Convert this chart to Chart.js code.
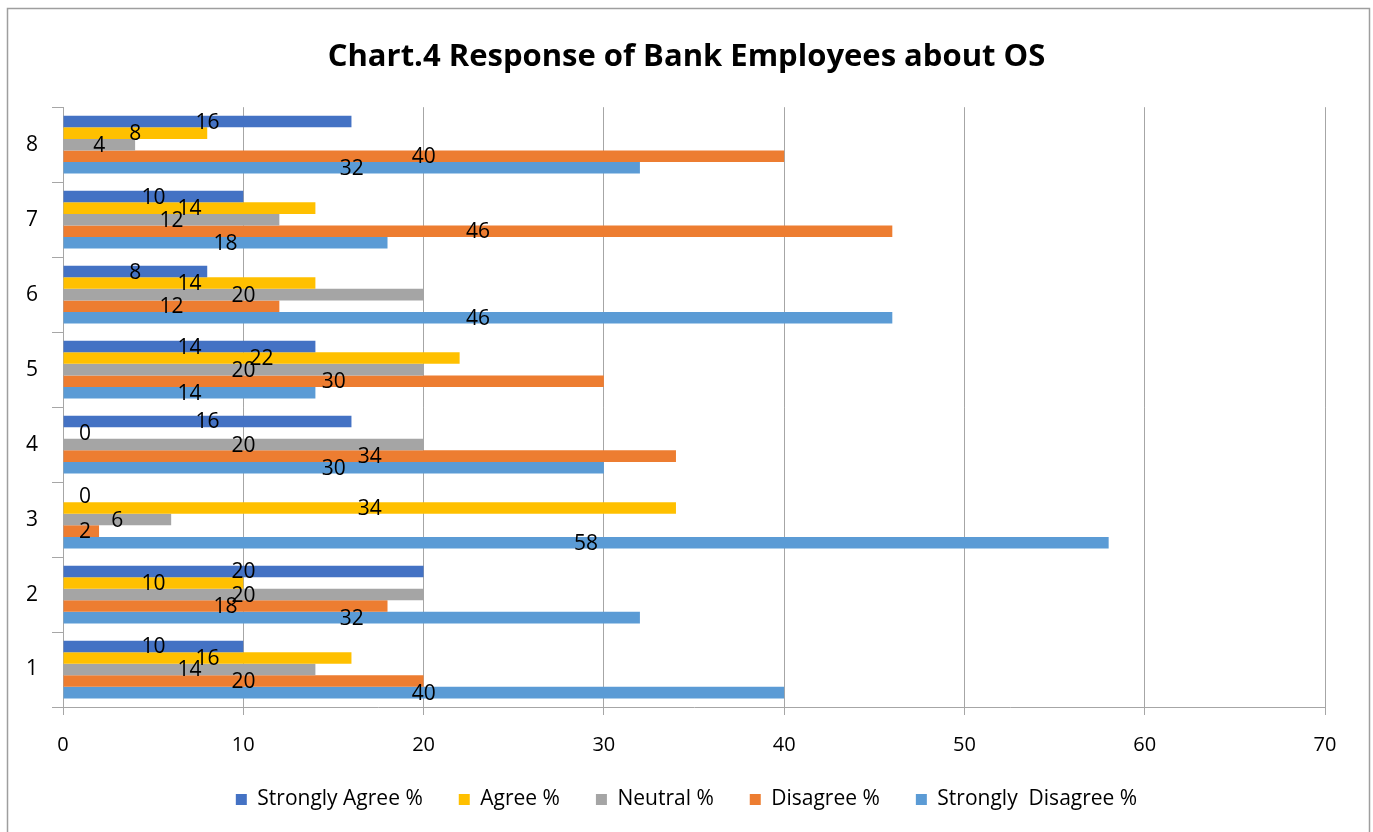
<!DOCTYPE html>
<html>
<head>
<meta charset="utf-8">
<title>Response of Bank Employees about OS</title>
<script src="https://cdn.jsdelivr.net/npm/chart.js@4.4.1/dist/chart.umd.min.js"></script>
<style>
  html, body { margin: 0; padding: 0; background: #fff; }
  #wrap { width: 1373px; height: 832px; }
</style>
</head>
<body>
<div id="wrap"><canvas id="chart" width="1373" height="832"></canvas></div>
<script>
// ---------- data ----------
const questions = ['1', '2', '3', '4', '5', '6', '7', '8'];
const stronglyAgree    = [10, 20, 0, 16, 14, 8, 10, 16];
const agree            = [16, 10, 34, 0, 22, 14, 14, 8];
const neutral          = [14, 20, 6, 20, 20, 20, 12, 4];
const disagree         = [20, 18, 2, 34, 30, 12, 46, 40];
const stronglyDisagree = [40, 32, 58, 30, 14, 46, 18, 32];
const xTicks = [0, 10, 20, 30, 40, 50, 60, 70];

const FONT = "'Open Sans', 'DejaVu Sans', sans-serif";
const GRID = '#a6a6a6';

// ---------- outer frame ----------
const framePlugin = {
  id: 'frame',
  afterDraw(chart) {
    const ctx = chart.ctx;
    ctx.save();
    ctx.strokeStyle = '#9e9e9e';
    ctx.lineWidth = 1.5;
    ctx.strokeRect(7.5, 8.5, 1362, 840);
    ctx.restore();
  }
};

// ---------- value labels in the middle of each bar ----------
const valueLabels = {
  id: 'valueLabels',
  afterDatasetsDraw(chart) {
    const ctx = chart.ctx;
    const left = chart.chartArea.left;
    ctx.save();
    ctx.font = '21px ' + FONT;
    ctx.fillStyle = '#000';
    ctx.textAlign = 'center';
    ctx.textBaseline = 'middle';
    chart.data.datasets.forEach((ds, i) => {
      chart.getDatasetMeta(i).data.forEach((bar, j) => {
        const x = Math.max((bar.x + bar.base) / 2, left + 22);
        ctx.fillText(String(ds.data[j]), x, bar.y + 1);
      });
    });
    ctx.restore();
  }
};

const series = [
  { label: 'Strongly Agree %', data: stronglyAgree, color: '#4472c4' },
  { label: 'Agree %', data: agree, color: '#ffc000' },
  { label: 'Neutral %', data: neutral, color: '#a5a5a5' },
  { label: 'Disagree %', data: disagree, color: '#ed7d31' },
  { label: 'Strongly  Disagree %', data: stronglyDisagree, color: '#5b9bd5' },
];

new Chart(document.getElementById('chart'), {
  type: 'bar',
  data: {
    labels: questions,
    datasets: series.map((s) => ({
      label: s.label,
      data: s.data,
      backgroundColor: s.color,
      borderWidth: 0,
      barPercentage: 1,
      categoryPercentage: 0.77,
    })),
  },
  options: {
    indexAxis: 'y',
    responsive: false,
    animation: false,
    layout: { padding: { left: 0, right: 0, top: 0, bottom: 12 } },
    plugins: {
      title: {
        display: true,
        text: 'Chart.4 Response of Bank Employees about OS',
        color: '#000',
        font: { family: FONT, size: 31, weight: 'bold' },
        padding: { top: 39, bottom: 31 },
      },
      legend: {
        position: 'bottom',
        labels: {
          color: '#000',
          font: { family: FONT, size: 21 },
          boxWidth: 11,
          boxHeight: 11,
          padding: 36,
        },
      },
      tooltip: { enabled: false },
    },
    scales: {
      x: {
        type: 'linear',
        min: 0,
        max: 70,
        afterBuildTicks(scale) {
          scale.ticks = xTicks.map((v) => ({ value: v }));
        },
        grid: { color: GRID, lineWidth: 1, tickLength: 8 },
        border: { color: GRID },
        ticks: { color: '#000', font: { family: FONT, size: 20 }, padding: 18, maxRotation: 0 },
        afterFit(scale) { scale.height = 46; },
      },
      y: {
        type: 'category',
        reverse: true,
        grid: { drawOnChartArea: false, color: GRID, tickLength: 11, offset: true },
        border: { color: GRID },
        ticks: { color: '#000', font: { family: FONT, size: 21 }, padding: 14 },
        afterFit(scale) { scale.width = 63; },
      },
      yRight: {
        type: 'category',
        position: 'right',
        grid: { display: false },
        border: { display: false },
        ticks: { display: false },
        afterFit(scale) { scale.width = 48; },
      },
    },
  },
  plugins: [framePlugin, valueLabels],
});
</script>
</body>
</html>
